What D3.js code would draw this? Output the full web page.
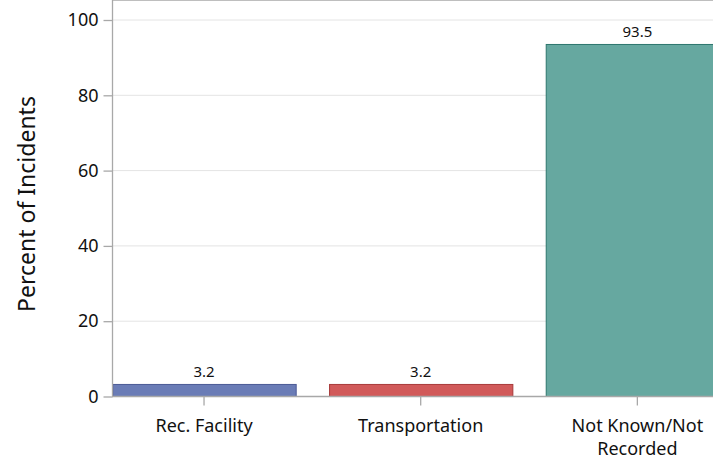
<!DOCTYPE html>
<html>
<head>
<meta charset="utf-8">
<script src="https://cdn.jsdelivr.net/npm/d3@7"></script>
<style>
  body { margin: 0; background: #fff; }
  text { font-family: "Noto Sans", sans-serif; fill: #111; }
</style>
</head>
<body>
<svg width="713" height="459"></svg>
<script>
var categories = ["Rec. Facility", "Transportation", "Not Known/Not|Recorded"],
    values = [3.2, 3.2, 93.5],
    colors = ["#6a7cb6", "#d15a5a", "#66a8a0"],
    strokes = ["#4b5a96", "#a83a3a", "#2d766d"],
    yTicks = [0, 20, 40, 60, 80, 100]

var svg = d3.select("svg"),
    left = 112, bottom = 396, top = 13

// bands are 216.7 wide, the last one runs past the window edge
var x = d3.scaleBand().domain(categories).range([95.7, 745.7]).paddingInner(0.154).paddingOuter(0.077)
var y = d3.scaleLinear().domain([0, 100]).range([bottom, 19.5])

// grid
svg.append("g").selectAll("line").data(yTicks.slice(1)).enter().append("line")
  .attr("x1", left).attr("x2", 713)
  .attr("y1", function(d) { return y(d) + 0.5 }).attr("y2", function(d) { return y(d) + 0.5 })
  .attr("stroke", "#e4e4e4").attr("stroke-width", 1)

// bars
svg.append("g").selectAll("rect").data(values).enter().append("rect")
  .attr("x", function(d, i) { return x(categories[i]) + 0.5 })
  .attr("y", function(d) { return y(d) + 0.5 })
  .attr("width", x.bandwidth())
  .attr("height", function(d) { return y(0) - y(d) })
  .attr("fill", function(d, i) { return colors[i] })
  .attr("stroke", function(d, i) { return strokes[i] })
  .attr("stroke-width", 1)

// value labels
svg.append("g").selectAll("text").data(values).enter().append("text")
  .attr("x", function(d, i) { return x(categories[i]) + x.bandwidth() / 2 })
  .attr("y", function(d) { return y(d) - 7 })
  .attr("text-anchor", "middle")
  .style("font-size", "15px")
  .text(function(d) { return d.toFixed(1) })

// frame
svg.append("line").attr("x1", left).attr("x2", 713).attr("y1", top + 0.5).attr("y2", top + 0.5)
  .attr("stroke", "#a8a8a8").attr("stroke-width", 1.3)
svg.append("line").attr("x1", left + 0.5).attr("x2", left + 0.5).attr("y1", top).attr("y2", bottom)
  .attr("stroke", "#a8a8a8").attr("stroke-width", 1.3)
svg.append("line").attr("x1", left).attr("x2", 713).attr("y1", bottom + 0.5).attr("y2", bottom + 0.5)
  .attr("stroke", "#a8a8a8").attr("stroke-width", 1.3)

// y axis
var ya = svg.append("g").attr("transform", "translate(" + (left + 0.5) + ",0.5)")
  .call(d3.axisLeft(y).tickValues(yTicks).tickSize(9).tickPadding(5))
ya.select(".domain").remove()
ya.selectAll("line").attr("stroke", "#a8a8a8").attr("stroke-width", 1.3)
ya.selectAll("text").style("font-size", "18px").attr("fill", "#111").style("font-family", "Noto Sans, sans-serif")

// x axis
var xa = svg.append("g").attr("transform", "translate(0," + (bottom + 0.5) + ")")
  .call(d3.axisBottom(x).tickSize(9).tickFormat(""))
xa.select(".domain").remove()
xa.selectAll("line").attr("stroke", "#a8a8a8").attr("stroke-width", 1.3)

svg.append("g").selectAll("text").data(categories).enter().append("text")
  .attr("x", function(d) { return x(d) + x.bandwidth() / 2 })
  .attr("y", 432)
  .attr("text-anchor", "middle")
  .style("font-size", "18px")
  .each(function(d) {
    var parts = d.split("|"), t = d3.select(this)
    parts.forEach(function(p, i) {
      t.append("tspan").attr("x", t.attr("x")).attr("dy", i ? 23 : 0).text(p)
    })
  })

svg.append("text")
  .attr("transform", "translate(35,204) rotate(-90)")
  .attr("text-anchor", "middle")
  .style("font-size", "23px")
  .text("Percent of Incidents")
</script>
</body>
</html>
